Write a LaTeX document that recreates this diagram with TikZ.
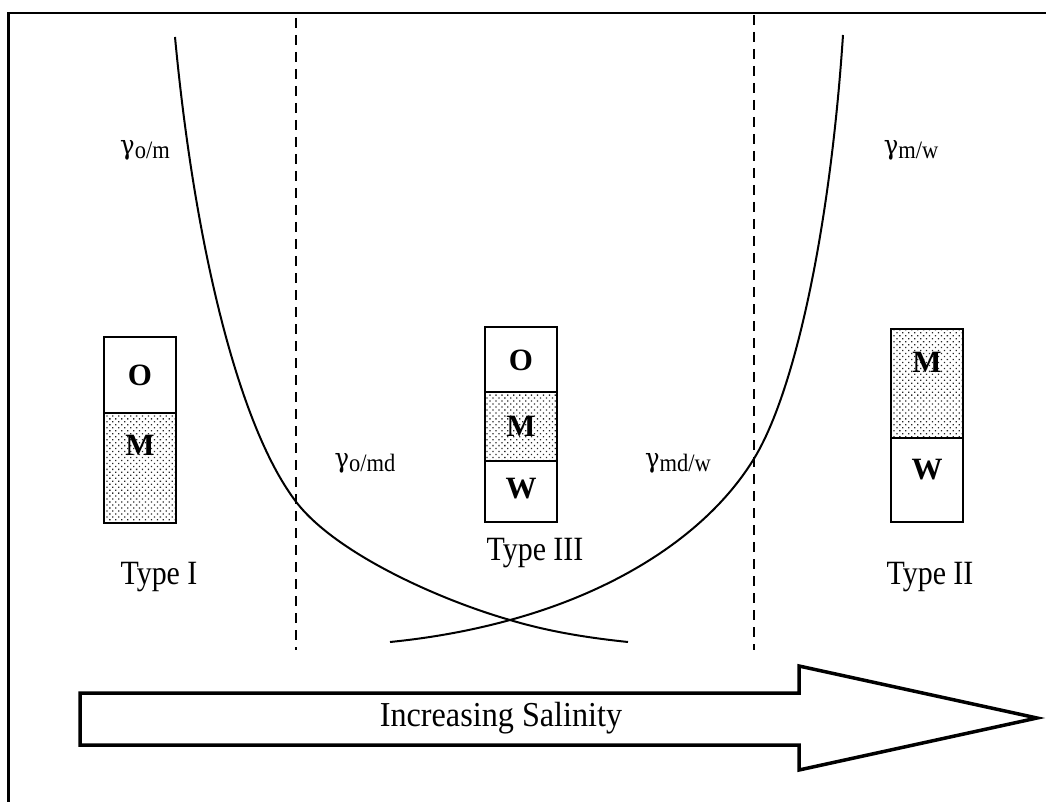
\documentclass[tikz,border=0pt]{standalone}
\usepackage{fontspec}
\setmainfont{Liberation Serif}
\newfontfamily\grk{DejaVu Serif}
\usetikzlibrary{patterns.meta}
\newcommand\sq[1]{\scalebox{0.88}[1]{#1}}
\newcommand\gl[2]{\scalebox{0.9}[1]{{\grk\fontsize{27}{30}\selectfont #1}\raisebox{-4pt}{\fontsize{25}{26}\selectfont #2}}}
\begin{document}
\begin{tikzpicture}[x=1pt,y=-1pt,
  cell/.style={draw, line width=1.8pt, minimum width=72pt, inner sep=0pt},
  stip/.style={pattern={Dots[distance=4.2pt,angle=45,radius=0.9pt]}, pattern color=black!85},
  letter/.style={font=\fontsize{31}{32}\selectfont\bfseries, inner sep=0pt},
  lab/.style={font=\fontsize{34}{36}\selectfont, inner sep=0pt},
  gam/.style={inner sep=0pt},
  curve/.style={line width=2pt},
  sep/.style={line width=2.5pt, dash pattern=on 10pt off 7pt},
  frame/.style={line width=2.2pt},
  bigarrow/.style={line width=3.5pt, line join=miter}]
\useasboundingbox (0,0) rectangle (1046,802);
% frame
\draw[frame] (8.5,802) -- (8.5,13) -- (1046,13);
% dashed separators
\draw[sep] (296,18) -- (296,650);
\draw[sep] (754,15) -- (754,650);
% curves
\draw[curve] (175,37) .. controls (195,250) and (240,430) .. (297,503)
  .. controls (337,554) and (440,600) .. (510,620)
  .. controls (550,632) and (590,638) .. (628,642);
\draw[curve] (843,35) .. controls (830,230) and (795,390) .. (755,457)
  .. controls (710,532) and (620,590) .. (510,620)
  .. controls (470,631) and (430,638) .. (390,642);
% Type I
\node[cell, minimum height=76pt] (t1o) at (140,375) {};
\node[cell, stip, minimum height=110pt] (t1m) at (140,468) {};
\node[letter] (t1ol) at (140,375) {O};
\node[letter] (t1ml) at (140,445) {M};
\node[lab] (t1) at (159,577) {\sq{Type I}};
% Type III
\node[cell, minimum height=65pt] (t3o) at (521,359.5) {};
\node[cell, stip, minimum height=69pt] (t3m) at (521,426.5) {};
\node[cell, minimum height=61pt] (t3w) at (521,491.5) {};
\node[letter] (t3ol) at (521,360) {O};
\node[letter] (t3ml) at (521,426) {M};
\node[letter] (t3wl) at (521,489) {W};
\node[lab] (t3) at (535,553) {\sq{Type III}};
% Type II
\node[cell, stip, minimum height=109pt] (t2m) at (927,383.5) {};
\node[cell, minimum height=84pt] (t2w) at (927,480) {};
\node[letter] (t2ml) at (927,362) {M};
\node[letter] (t2wl) at (927,470) {W};
\node[lab] (t2) at (930,577) {\sq{Type II}};
% gamma labels
\node[gam] (gom) at (145,150) {\gl{γ}{o/m}};
\node[gam] (gmw) at (911,150) {\gl{γ}{m/w}};
\node[gam] (gomd) at (365,463) {\gl{γ}{o/md}};
\node[gam] (gmdw) at (678,463) {\gl{γ}{md/w}};
% salinity arrow
\draw[bigarrow] (80,693) -- (799,693) -- (799,666) -- (1037,718) -- (799,770) -- (799,745) -- (80,745) -- cycle;
\node[lab, font=\fontsize{35}{36}\selectfont] (sal) at (501,718) {\scalebox{0.92}[1]{Increasing Salinity}};
\end{tikzpicture}
\end{document}
